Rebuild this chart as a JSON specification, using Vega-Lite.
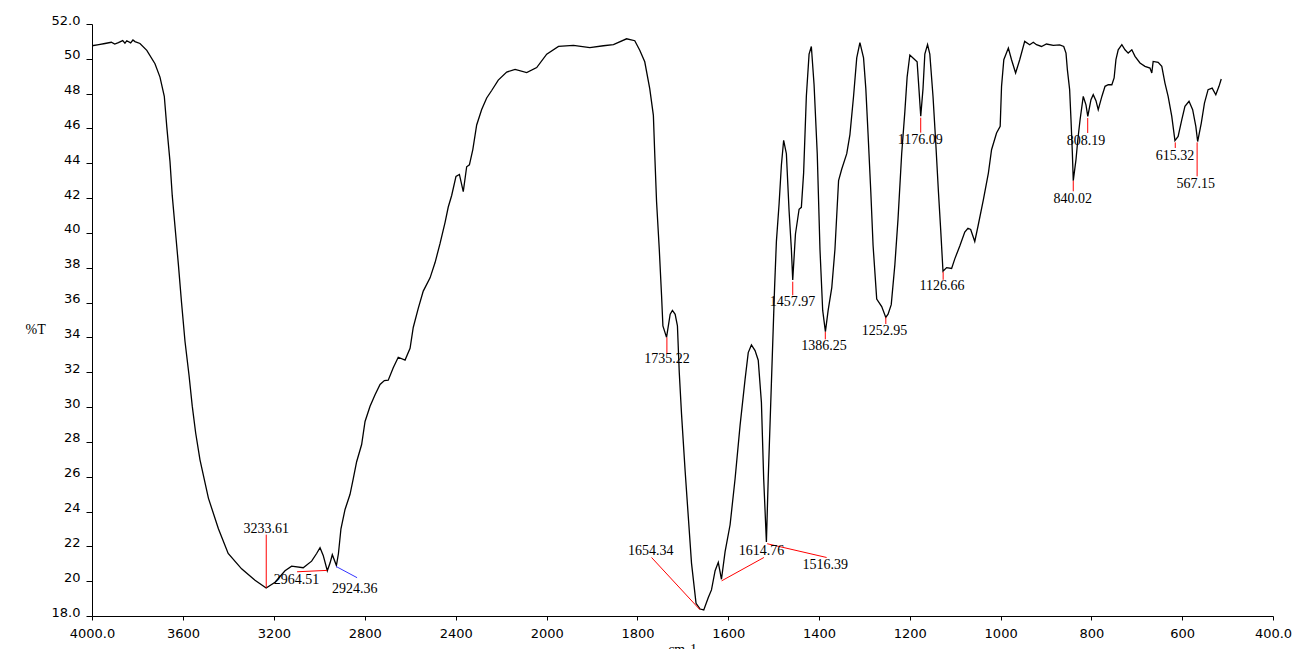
{
  "$schema": "https://vega.github.io/schema/vega-lite/v6.json",
  "autosize": "none",
  "width": 1181,
  "height": 592,
  "padding": {"left": 92, "top": 24, "right": 21, "bottom": 33},
  "background": "white",
  "config": {"view": {"stroke": null}, "axis": {"grid": false, "labelOverlap": false}},
  "datasets": {
    "spectrum": [
      {"wn": 4000, "t": 50.75}, {"wn": 3970, "t": 50.82}, {"wn": 3943, "t": 50.88}, {"wn": 3915, "t": 50.95},
      {"wn": 3900, "t": 50.85}, {"wn": 3884, "t": 50.93}, {"wn": 3865, "t": 51.05}, {"wn": 3855, "t": 50.9},
      {"wn": 3847, "t": 51.04}, {"wn": 3830, "t": 50.92}, {"wn": 3820, "t": 51.08}, {"wn": 3811, "t": 50.99},
      {"wn": 3789, "t": 50.88}, {"wn": 3759, "t": 50.49}, {"wn": 3723, "t": 49.72}, {"wn": 3701, "t": 48.95},
      {"wn": 3682, "t": 47.85}, {"wn": 3671, "t": 46.09}, {"wn": 3657, "t": 44.11}, {"wn": 3647, "t": 42.14},
      {"wn": 3632, "t": 39.94}, {"wn": 3620, "t": 38.18}, {"wn": 3606, "t": 35.98}, {"wn": 3591, "t": 33.78},
      {"wn": 3573, "t": 31.8}, {"wn": 3559, "t": 30.05}, {"wn": 3544, "t": 28.51}, {"wn": 3525, "t": 26.97},
      {"wn": 3488, "t": 24.77}, {"wn": 3444, "t": 23.01}, {"wn": 3401, "t": 21.59}, {"wn": 3342, "t": 20.71},
      {"wn": 3283, "t": 20.05}, {"wn": 3234, "t": 19.61}, {"wn": 3195, "t": 19.94}, {"wn": 3151, "t": 20.6},
      {"wn": 3122, "t": 20.86}, {"wn": 3071, "t": 20.77}, {"wn": 3034, "t": 21.15}, {"wn": 3012, "t": 21.59},
      {"wn": 2997, "t": 21.92}, {"wn": 2983, "t": 21.48}, {"wn": 2965, "t": 20.6}, {"wn": 2953, "t": 21.04},
      {"wn": 2943, "t": 21.52}, {"wn": 2925, "t": 20.9}, {"wn": 2916, "t": 21.59}, {"wn": 2905, "t": 23.01},
      {"wn": 2887, "t": 24.12}, {"wn": 2865, "t": 24.99}, {"wn": 2851, "t": 25.87}, {"wn": 2836, "t": 26.86},
      {"wn": 2814, "t": 27.85}, {"wn": 2799, "t": 29.17}, {"wn": 2777, "t": 30.05}, {"wn": 2755, "t": 30.71},
      {"wn": 2733, "t": 31.3}, {"wn": 2714, "t": 31.52}, {"wn": 2697, "t": 31.54}, {"wn": 2675, "t": 32.26},
      {"wn": 2653, "t": 32.86}, {"wn": 2623, "t": 32.7}, {"wn": 2601, "t": 33.37}, {"wn": 2587, "t": 34.57},
      {"wn": 2565, "t": 35.67}, {"wn": 2543, "t": 36.66}, {"wn": 2513, "t": 37.42}, {"wn": 2491, "t": 38.3},
      {"wn": 2469, "t": 39.4}, {"wn": 2447, "t": 40.61}, {"wn": 2433, "t": 41.49}, {"wn": 2418, "t": 42.15},
      {"wn": 2399, "t": 43.25}, {"wn": 2384, "t": 43.36}, {"wn": 2367, "t": 42.37}, {"wn": 2352, "t": 43.8},
      {"wn": 2340, "t": 43.91}, {"wn": 2325, "t": 44.79}, {"wn": 2308, "t": 46.2}, {"wn": 2286, "t": 47.09},
      {"wn": 2264, "t": 47.75}, {"wn": 2242, "t": 48.18}, {"wn": 2213, "t": 48.78}, {"wn": 2176, "t": 49.24},
      {"wn": 2139, "t": 49.39}, {"wn": 2088, "t": 49.21}, {"wn": 2044, "t": 49.5}, {"wn": 2000, "t": 50.27},
      {"wn": 1974, "t": 50.71}, {"wn": 1941, "t": 50.77}, {"wn": 1905, "t": 50.64}, {"wn": 1875, "t": 50.75},
      {"wn": 1853, "t": 50.82}, {"wn": 1824, "t": 51.15}, {"wn": 1806, "t": 51.04}, {"wn": 1795, "t": 50.49},
      {"wn": 1784, "t": 49.83}, {"wn": 1773, "t": 48.29}, {"wn": 1765, "t": 46.75}, {"wn": 1762, "t": 44.55},
      {"wn": 1758, "t": 41.8}, {"wn": 1752, "t": 39.06}, {"wn": 1747, "t": 36.42}, {"wn": 1744, "t": 34.66},
      {"wn": 1736, "t": 34.0}, {"wn": 1728, "t": 35.33}, {"wn": 1723, "t": 35.55}, {"wn": 1717, "t": 35.33},
      {"wn": 1712, "t": 34.66}, {"wn": 1708, "t": 32.0}, {"wn": 1703, "t": 29.61}, {"wn": 1695, "t": 26.31},
      {"wn": 1688, "t": 23.67}, {"wn": 1681, "t": 21.04}, {"wn": 1671, "t": 18.73}, {"wn": 1662, "t": 18.4},
      {"wn": 1654, "t": 18.35}, {"wn": 1644, "t": 19.06}, {"wn": 1637, "t": 19.5}, {"wn": 1629, "t": 20.6},
      {"wn": 1622, "t": 21.08}, {"wn": 1615, "t": 20.11}, {"wn": 1607, "t": 21.7}, {"wn": 1596, "t": 23.24},
      {"wn": 1585, "t": 25.88}, {"wn": 1574, "t": 28.95}, {"wn": 1563, "t": 31.59}, {"wn": 1556, "t": 33.13},
      {"wn": 1549, "t": 33.57}, {"wn": 1541, "t": 33.24}, {"wn": 1534, "t": 32.69}, {"wn": 1527, "t": 30.27},
      {"wn": 1522, "t": 25.88}, {"wn": 1516, "t": 22.25}, {"wn": 1512, "t": 25.88}, {"wn": 1505, "t": 31.37},
      {"wn": 1498, "t": 36.86}, {"wn": 1494, "t": 39.5}, {"wn": 1488, "t": 41.69}, {"wn": 1483, "t": 43.89},
      {"wn": 1478, "t": 45.32}, {"wn": 1472, "t": 44.55}, {"wn": 1466, "t": 41.25}, {"wn": 1461, "t": 39.06},
      {"wn": 1458, "t": 37.3}, {"wn": 1452, "t": 39.94}, {"wn": 1444, "t": 41.36}, {"wn": 1439, "t": 41.47},
      {"wn": 1434, "t": 43.45}, {"wn": 1428, "t": 47.85}, {"wn": 1422, "t": 50.27}, {"wn": 1417, "t": 50.71},
      {"wn": 1411, "t": 48.51}, {"wn": 1404, "t": 44.55}, {"wn": 1398, "t": 39.06}, {"wn": 1392, "t": 35.55},
      {"wn": 1386, "t": 34.33}, {"wn": 1380, "t": 35.55}, {"wn": 1372, "t": 36.86}, {"wn": 1365, "t": 39.06},
      {"wn": 1357, "t": 43.01}, {"wn": 1350, "t": 43.67}, {"wn": 1339, "t": 44.55}, {"wn": 1332, "t": 45.65},
      {"wn": 1324, "t": 47.85}, {"wn": 1317, "t": 50.05}, {"wn": 1310, "t": 50.93}, {"wn": 1302, "t": 50.05},
      {"wn": 1297, "t": 48.29}, {"wn": 1292, "t": 45.65}, {"wn": 1286, "t": 42.35}, {"wn": 1281, "t": 39.28},
      {"wn": 1273, "t": 36.2}, {"wn": 1262, "t": 35.77}, {"wn": 1253, "t": 35.15}, {"wn": 1248, "t": 35.33},
      {"wn": 1241, "t": 35.88}, {"wn": 1233, "t": 38.18}, {"wn": 1226, "t": 40.82}, {"wn": 1218, "t": 44.55},
      {"wn": 1211, "t": 46.97}, {"wn": 1206, "t": 48.95}, {"wn": 1200, "t": 50.22}, {"wn": 1193, "t": 50.05},
      {"wn": 1184, "t": 49.83}, {"wn": 1180, "t": 48.29}, {"wn": 1176, "t": 46.7}, {"wn": 1171, "t": 48.29},
      {"wn": 1167, "t": 50.27}, {"wn": 1161, "t": 50.82}, {"wn": 1156, "t": 50.27}, {"wn": 1149, "t": 47.85},
      {"wn": 1143, "t": 45.21}, {"wn": 1137, "t": 42.35}, {"wn": 1132, "t": 40.16}, {"wn": 1127, "t": 37.8},
      {"wn": 1119, "t": 38.01}, {"wn": 1108, "t": 37.96}, {"wn": 1101, "t": 38.51}, {"wn": 1090, "t": 39.25},
      {"wn": 1079, "t": 40.05}, {"wn": 1072, "t": 40.27}, {"wn": 1066, "t": 40.2}, {"wn": 1057, "t": 39.51},
      {"wn": 1050, "t": 40.37}, {"wn": 1038, "t": 41.91}, {"wn": 1027, "t": 43.44}, {"wn": 1020, "t": 44.78},
      {"wn": 1009, "t": 45.74}, {"wn": 1001, "t": 46.12}, {"wn": 998, "t": 48.42}, {"wn": 993, "t": 49.95},
      {"wn": 983, "t": 50.62}, {"wn": 976, "t": 49.95}, {"wn": 967, "t": 49.19}, {"wn": 958, "t": 49.95},
      {"wn": 947, "t": 51.0}, {"wn": 936, "t": 50.81}, {"wn": 928, "t": 50.95}, {"wn": 921, "t": 50.81},
      {"wn": 910, "t": 50.71}, {"wn": 899, "t": 50.85}, {"wn": 884, "t": 50.77}, {"wn": 870, "t": 50.8},
      {"wn": 861, "t": 50.71}, {"wn": 856, "t": 50.33}, {"wn": 853, "t": 49.38}, {"wn": 848, "t": 48.23},
      {"wn": 845, "t": 46.5}, {"wn": 842, "t": 44.59}, {"wn": 840, "t": 43.0}, {"wn": 834, "t": 44.21},
      {"wn": 830, "t": 45.35}, {"wn": 825, "t": 46.5}, {"wn": 818, "t": 47.84}, {"wn": 812, "t": 47.36},
      {"wn": 808, "t": 46.69}, {"wn": 801, "t": 47.65}, {"wn": 796, "t": 47.94}, {"wn": 790, "t": 47.6},
      {"wn": 785, "t": 47.08}, {"wn": 777, "t": 47.84}, {"wn": 770, "t": 48.42}, {"wn": 763, "t": 48.51},
      {"wn": 755, "t": 48.51}, {"wn": 750, "t": 48.9}, {"wn": 746, "t": 49.95}, {"wn": 741, "t": 50.52},
      {"wn": 733, "t": 50.81}, {"wn": 726, "t": 50.52}, {"wn": 719, "t": 50.33}, {"wn": 711, "t": 50.52},
      {"wn": 704, "t": 50.14}, {"wn": 693, "t": 49.76}, {"wn": 682, "t": 49.57}, {"wn": 671, "t": 49.47},
      {"wn": 667, "t": 49.19}, {"wn": 664, "t": 49.85}, {"wn": 653, "t": 49.8}, {"wn": 645, "t": 49.57},
      {"wn": 638, "t": 48.61}, {"wn": 631, "t": 47.84}, {"wn": 623, "t": 46.69}, {"wn": 616, "t": 45.3},
      {"wn": 609, "t": 45.54}, {"wn": 601, "t": 46.5}, {"wn": 594, "t": 47.27}, {"wn": 585, "t": 47.56},
      {"wn": 577, "t": 47.08}, {"wn": 570, "t": 46.12}, {"wn": 566, "t": 45.25}, {"wn": 558, "t": 46.31},
      {"wn": 551, "t": 47.46}, {"wn": 543, "t": 48.23}, {"wn": 534, "t": 48.32}, {"wn": 526, "t": 47.94},
      {"wn": 519, "t": 48.42}, {"wn": 514, "t": 48.84}
    ],
    "peaks": [
      {"label": "3233.61", "x1": 3233.61, "y1": 19.62, "x2": 3233.61, "y2": 22.67, "tx": 3234, "ty": 22.78},
      {"label": "2964.51", "x1": 3098, "y1": 20.54, "x2": 2966, "y2": 20.62, "tx": 3100, "ty": 19.85},
      {"label": "2924.36", "x1": 2927, "y1": 20.85, "x2": 2834, "y2": 20.2, "tx": 2844, "ty": 19.33},
      {"label": "1735.22", "x1": 1735.22, "y1": 34.0, "x2": 1735.22, "y2": 33.07, "tx": 1735, "ty": 32.55},
      {"label": "1654.34", "x1": 1769, "y1": 21.36, "x2": 1662.4, "y2": 18.36, "tx": 1771, "ty": 21.52},
      {"label": "1614.76", "x1": 1614.6, "y1": 20.02, "x2": 1521.5, "y2": 21.36, "tx": 1527, "ty": 21.52},
      {"label": "1516.39", "x1": 1514.2, "y1": 22.15, "x2": 1383.4, "y2": 21.36, "tx": 1386.5, "ty": 20.71},
      {"label": "1457.97", "x1": 1457.97, "y1": 37.2, "x2": 1457.97, "y2": 36.42, "tx": 1458.7, "ty": 35.82},
      {"label": "1386.25", "x1": 1386.25, "y1": 34.32, "x2": 1386.25, "y2": 33.89, "tx": 1389, "ty": 33.29},
      {"label": "1252.95", "x1": 1252.95, "y1": 35.15, "x2": 1252.95, "y2": 34.77, "tx": 1256, "ty": 34.12},
      {"label": "1176.09", "x1": 1176.09, "y1": 46.62, "x2": 1176.09, "y2": 45.76, "tx": 1177, "ty": 45.12},
      {"label": "1126.66", "x1": 1126.66, "y1": 37.77, "x2": 1126.66, "y2": 37.31, "tx": 1129, "ty": 36.74},
      {"label": "840.02", "x1": 840.02, "y1": 43.0, "x2": 840.02, "y2": 42.39, "tx": 841, "ty": 41.74},
      {"label": "808.19", "x1": 808.19, "y1": 46.6, "x2": 808.19, "y2": 45.74, "tx": 812, "ty": 45.07},
      {"label": "615.32", "x1": 615.32, "y1": 45.2, "x2": 615.32, "y2": 44.88, "tx": 616, "ty": 44.21},
      {"label": "567.15", "x1": 567.15, "y1": 45.2, "x2": 567.15, "y2": 43.25, "tx": 570, "ty": 42.6}
    ]
  },
  "layer": [
    {
      "data": {"name": "spectrum"},
      "mark": {"type": "line", "color": "#000000", "strokeWidth": 1.3, "clip": true},
      "encoding": {
        "x": {
          "field": "wn", "type": "quantitative",
          "scale": {"domain": [4000, 2000, 400], "range": [0, 454.7, 1181], "nice": false, "zero": false},
          "axis": {
            "values": [4000, 3600, 3200, 2800, 2400, 2000, 1800, 1600, 1400, 1200, 1000, 800, 600, 400],
            "tickCount": 20,
            "labelExpr": "datum.value == 4000 ? '4000.0' : (datum.value == 400 ? '400.0' : format(datum.value, 'd'))",
            "title": "cm-1",
            "titleFont": "Liberation Serif", "titleFontSize": 14, "titleFontWeight": "normal", "titleColor": "#000",
            "titleX": 590, "titleY": 37, "titleBaseline": "alphabetic", "titleAnchor": null,
            "labelFont": "DejaVu Sans", "labelFontSize": 13, "labelColor": "#000",
            "labelPadding": 7, "tickSize": 4, "tickColor": "#000", "domainColor": "#000",
            "labelOverlap": false, "labelFlush": false
          }
        },
        "y": {
          "field": "t", "type": "quantitative",
          "scale": {"domain": [18, 52], "nice": false, "zero": false},
          "axis": {
            "values": [18, 20, 22, 24, 26, 28, 30, 32, 34, 36, 38, 40, 42, 44, 46, 48, 50, 52],
            "tickCount": 20,
            "labelExpr": "datum.value == 52 ? '52.0' : (datum.value == 18 ? '18.0' : format(datum.value, 'd'))",
            "title": "%T",
            "titleFont": "Liberation Serif", "titleFontSize": 14, "titleFontWeight": "normal", "titleColor": "#000",
            "titleAngle": 0, "titleX": -67, "titleY": 309, "titleAlign": "left", "titleBaseline": "alphabetic",
            "labelFont": "DejaVu Sans", "labelFontSize": 13, "labelColor": "#000", "labelBaseline": "alphabetic",
            "labelPadding": 6, "tickSize": 6, "tickColor": "#000", "domainColor": "#000",
            "labelOverlap": false, "labelFlush": false
          }
        }
      }
    },
    {
      "data": {"name": "peaks"},
      "mark": {"type": "rule", "strokeWidth": 1},
      "encoding": {
        "x": {"field": "x1", "type": "quantitative"},
        "y": {"field": "y1", "type": "quantitative"},
        "x2": {"field": "x2"},
        "y2": {"field": "y2"},
        "color": {"condition": {"test": "datum.label == '2924.36'", "value": "#3333ff"}, "value": "#ff0000"}
      }
    },
    {
      "data": {"name": "peaks"},
      "mark": {"type": "text", "font": "Liberation Serif", "fontSize": 14, "color": "#000", "align": "center", "baseline": "alphabetic"},
      "encoding": {
        "x": {"field": "tx", "type": "quantitative"},
        "y": {"field": "ty", "type": "quantitative"},
        "text": {"field": "label"}
      }
    }
  ]
}
